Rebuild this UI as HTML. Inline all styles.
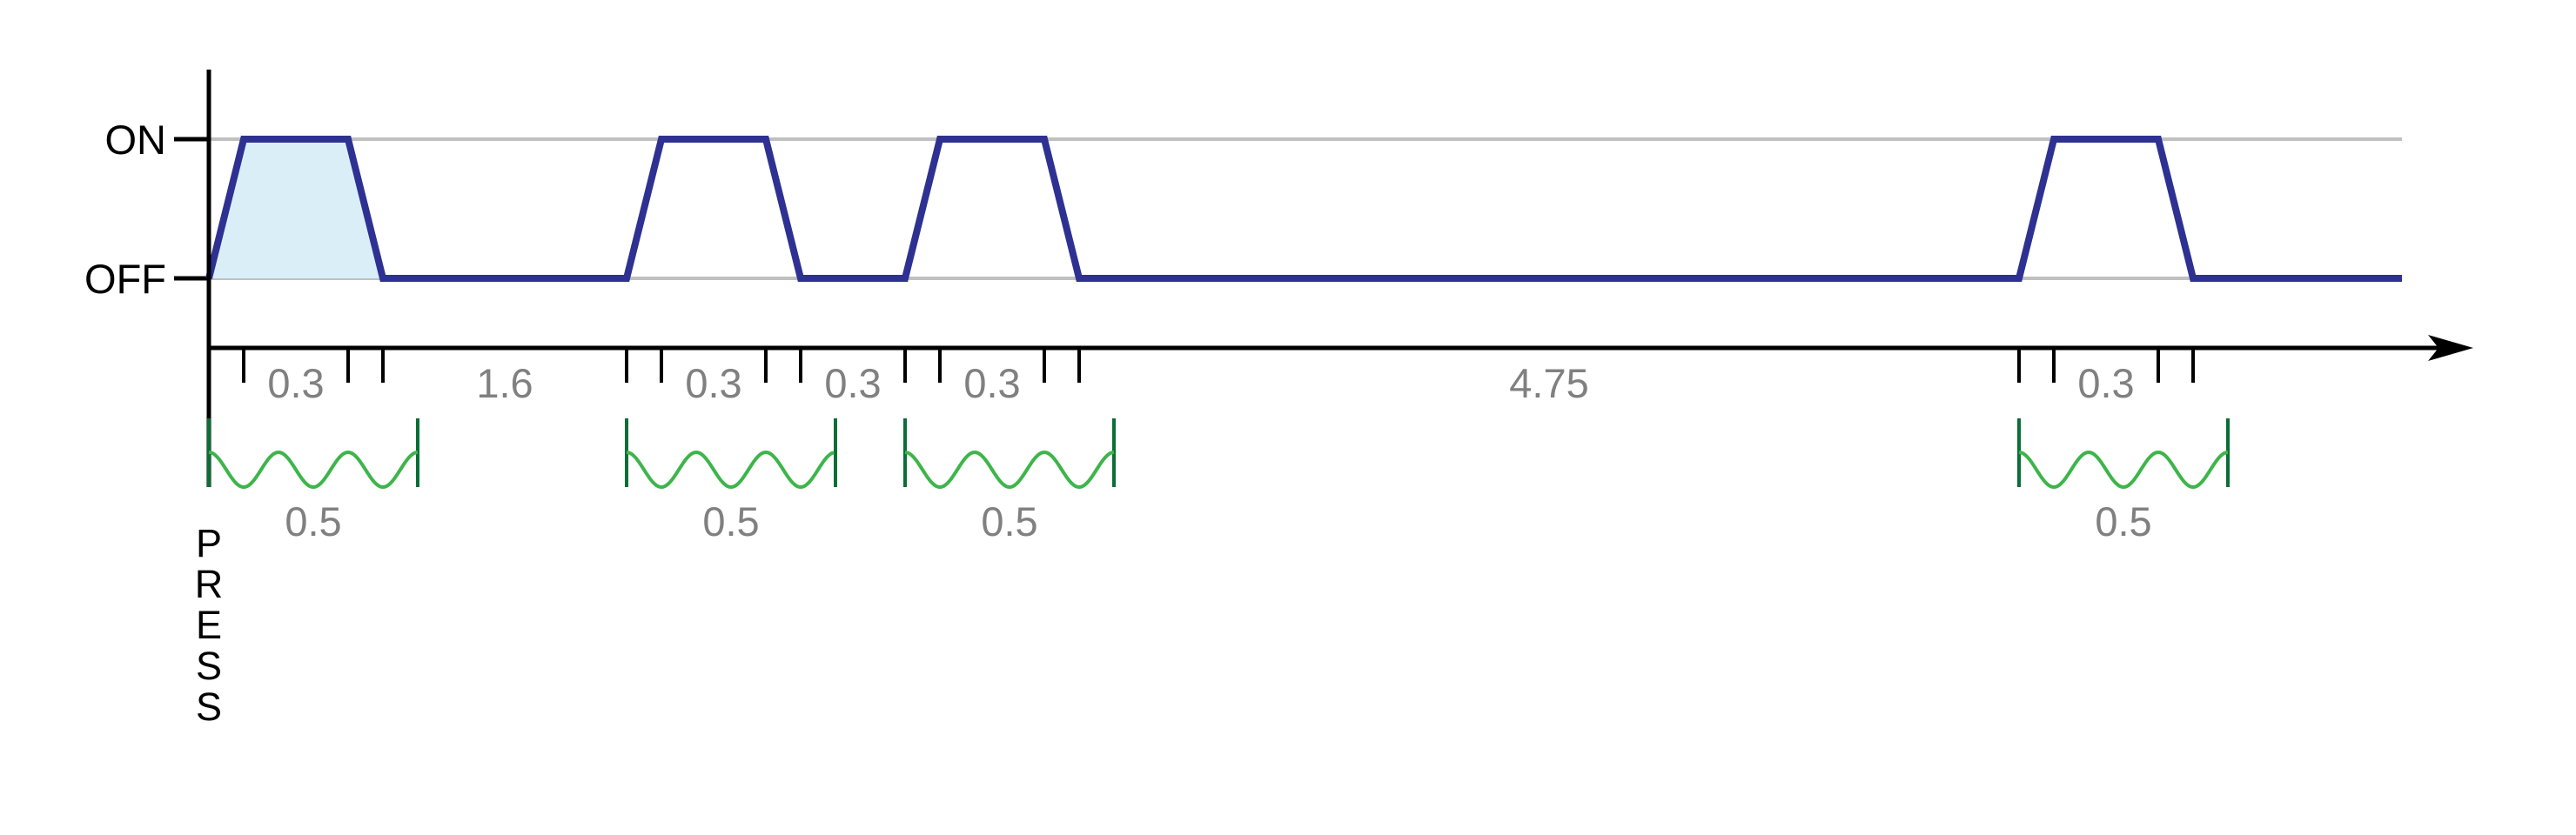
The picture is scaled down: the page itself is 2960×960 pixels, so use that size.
<!DOCTYPE html>
<html><head><meta charset="utf-8"><style>
html,body{margin:0;padding:0;background:#fff;}
svg{display:block;}
text{font-family:"Liberation Sans",sans-serif;}
</style></head><body>
<svg id="chart" width="2960" height="960" viewBox="0 0 2960 960" xmlns="http://www.w3.org/2000/svg">
<g id="layer"></g>
</svg>
<script>
// data (time units; 1 unit = 400px)
const pulseStarts = [0, 1.2, 2.0, 5.2];
const riseTime = 0.1;
const onTime = 0.3;
const gapLabels = ["1.6", "0.3", "4.75"];
const onLabels = ["0.3", "0.3", "0.3", "0.3"];
const windowLabels = ["0.5", "0.5", "0.5", "0.5"];
const windowLen = 0.6;
const endTime = 6.3;
const yLevels = ["OFF", "ON"];

const NS = "http://www.w3.org/2000/svg";
const g = document.getElementById('layer');
const X = t => 240 + t * 400;
const Y = v => v ? 160 : 320;
function el(tag, attrs, parent) {
  const e = document.createElementNS(NS, tag);
  for (const k in attrs) e.setAttribute(k, attrs[k]);
  (parent || g).appendChild(e);
  return e;
}
// gridlines
yLevels.forEach((lv, i) => {
  const l = el('line', {x1: X(0), x2: X(endTime), y1: Y(i), y2: Y(i), stroke: '#c0c0c0', 'stroke-width': 4});
  
  
  const tk = el('line', {x1: 200, x2: 240, y1: Y(i), y2: Y(i), stroke: '#000', 'stroke-width': 5});
  
  
  const tx = el('text', {x: 191, y: Y(i) + 17, 'text-anchor': 'end', 'font-size': 47, fill: '#000'});
  tx.textContent = lv;
  
  
});
// fill first pulse
{
  const s = pulseStarts[0];
  const f = el('polygon', {points: [[X(s),Y(0)],[X(s+riseTime),Y(1)],[X(s+riseTime+onTime),Y(1)],[X(s+2*riseTime+onTime),Y(0)]].map(p=>p.join(',')).join(' '), fill: '#daeef8'});
  
  
}
// signal
{
  let pts = [];
  pulseStarts.forEach(s => {
    pts.push([X(s), Y(0)], [X(s+riseTime), Y(1)], [X(s+riseTime+onTime), Y(1)], [X(s+2*riseTime+onTime), Y(0)]);
  });
  pts.push([X(endTime), Y(0)]);
  const p = el('polyline', {points: pts.map(p=>p.join(',')).join(' '), fill: 'none', stroke: '#2e3192', 'stroke-width': 8, 'stroke-linejoin': 'miter'});
  
  
}
// axes
{
  const ya = el('line', {x1: 240, x2: 240, y1: 80, y2: 560, stroke: '#000', 'stroke-width': 5});
  
  
  const xa = el('line', {x1: 240, x2: 2805, y1: 400, y2: 400, stroke: '#000', 'stroke-width': 5});
  
  
  const ah = el('path', {d: 'M2842,400 L2790,385 L2802,400 L2790,415 Z', fill: '#000'});
  
  
}
// ticks and labels
pulseStarts.forEach((s, i) => {
  [s, s+riseTime, s+riseTime+onTime, s+2*riseTime+onTime].forEach(t => {
    if (t === 0) return;
    const tk = el('line', {x1: X(t), x2: X(t), y1: 400, y2: 440, stroke: '#000', 'stroke-width': 4});
    
    
  });
  const lb = el('text', {x: X(s+riseTime+onTime/2), y: 457, 'text-anchor': 'middle', 'font-size': 47, fill: '#808080'});
  lb.textContent = onLabels[i];
  
  
  if (i < pulseStarts.length - 1) {
    const e = s + 2*riseTime + onTime, n = pulseStarts[i+1];
    const gl = el('text', {x: X((e+n)/2), y: 457, 'text-anchor': 'middle', 'font-size': 47, fill: '#808080'});
    gl.textContent = gapLabels[i];
    
    
  }
  // window bracket
  const a = X(s), b = X(s + windowLen);
  [a, b].forEach(x => {
    const bl = el('line', {x1: x, x2: x, y1: 481, y2: 560, stroke: '#0a6e36', 'stroke-width': 4});
    
    
  });
  let d = '';
  for (let x = a; x <= b; x += 2) {
    const y = 540 - 20 * Math.cos(2 * Math.PI * (x - a) / 80);
    d += (x === a ? 'M' : 'L') + x + ',' + y.toFixed(2);
  }
  const w = el('path', {d: d, fill: 'none', stroke: '#3db54a', 'stroke-width': 4});
  
  
  const wl = el('text', {x: (a+b)/2, y: 616, 'text-anchor': 'middle', 'font-size': 47, fill: '#808080'});
  wl.textContent = windowLabels[i];
  
  
});
// PRESS
"PRESS".split('').forEach((c, i) => {
  const t = el('text', {x: 240, y: 640 + i * 47, 'text-anchor': 'middle', 'font-size': 45, fill: '#000'});
  t.textContent = c;
  
  
});
</script>
</body></html>
